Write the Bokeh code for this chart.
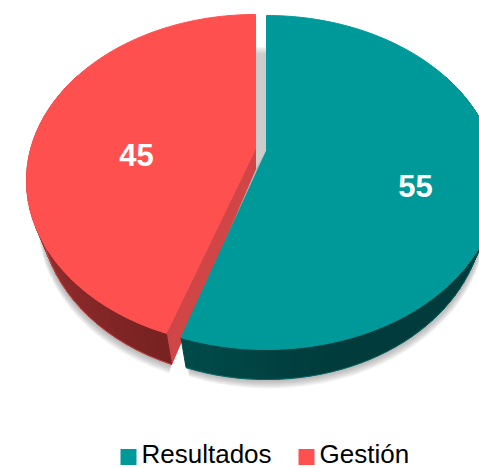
import math
from bokeh.plotting import figure
from bokeh.models import Range1d
from bokeh.core.properties import value
from bokeh.embed import file_html
from bokeh.resources import INLINE

categories = ["Resultados", "Gestión"]
values = [55, 45]
colors = ["#009999", "#ff5050"]

W, H = 479, 468
TILT = 0.19
total = sum(values)
teal_end = 360 * values[0] / total
red_start = teal_end + 1.0  # the exploded slice is drawn with a slight perspective skew


def mix(a, b, f):
    ca = [int(a[i:i + 2], 16) for i in (1, 3, 5)]
    cb = [int(b[i:i + 2], 16) for i in (1, 3, 5)]
    return "#%02x%02x%02x" % tuple(round(x + (y - x) * f) for x, y in zip(ca, cb))


def proj(deg):
    th = math.radians(deg)
    X, Y = math.sin(th), math.cos(th)
    d = 1 + TILT * Y
    return X * math.sqrt(1 - TILT ** 2) / d, (Y + TILT) / d


def top(deg, g):
    X, Y = proj(deg)
    return g["cx"] + g["rx"] * X, g["cy"] - g["ry"] * Y


def bottom(deg, g):
    X, Y = proj(deg)
    return g["cx"] + g["rx"] * g["s"] * X, g["cy"] + g["d"] - g["ry"] * Y


def steps(a, b, n):
    return [a + (b - a) * i / n for i in range(n + 1)]


teal = dict(cx=266, cy=182, rx=231, ry=167, d=30, s=0.94)
red = dict(cx=255, cy=180, rx=229, ry=166, d=31, s=0.94)
DPT_APEX = 20

p = figure(width=W, height=H, x_range=Range1d(0, W), y_range=Range1d(H, 0),
           output_backend="svg", toolbar_location=None, min_border=0,
           outline_line_color=None, background_fill_color="white", border_fill_color="white")
p.axis.visible = False
p.grid.visible = False


def poly(pts, color, alpha=1.0, line=True):
    p.patch([a for a, _ in pts], [b for _, b in pts], fill_color=color, fill_alpha=alpha,
            line_color=color if line else None, line_width=1, line_alpha=alpha)


# soft shadow under the bottom rim
for k in range(9, 0, -1):
    pts = [bottom(t, red) for t in steps(red_start, 360, 70)]
    pts = [(x - k * 0.3, y + k) for x, y in pts]
    poly(pts, "#707070", 0.07, line=False)
    pts = [bottom(t, teal) for t in steps(0, teal_end, 80)]
    pts = [(x + k * 0.3, y + k) for x, y in pts]
    poly(pts, "#707070", 0.07, line=False)

# grey back wall seen through the gap
ax_r, ay_r = top(0, red)[0], red["cy"] - TILT * red["ry"]
ax_t, ay_t = teal["cx"], teal["cy"] - TILT * teal["ry"]
poly([(ax_r, 52), (ax_t, 52), (ax_t, ay_t), (ax_r, ay_r + DPT_APEX)], "#cccccc", line=False)
for i in range(5):
    poly([(ax_r, 47 + i), (ax_t, 47 + i), (ax_t, 48 + i), (ax_r, 48 + i)],
         mix("#ececec", "#cccccc", i / 4), line=False)

# red cut face
poly([(ax_r, ay_r), (ax_r, ay_r + DPT_APEX), bottom(red_start, red), top(red_start, red)], "#d04545")

# red outer wall
ang = steps(red_start, 300, 34)
for i in range(len(ang) - 1):
    a, b = ang[i], ang[i + 1]
    c = mix("#782222", "#b83c3c", i / (len(ang) - 2))
    poly([top(a, red), top(b, red), bottom(b, red), bottom(a, red)], c)
rim = [bottom(t, red) for t in ang]
p.line([a for a, _ in rim], [b for _, b in rim], line_color="#ff5050", line_alpha=0.7, line_width=0.8)

# red top
arc = [top(t, red) for t in steps(red_start, 360, 120)]
poly([(ax_r, ay_r)] + arc, colors[1])

# teal outer wall
ang = steps(teal_end, 60, 60)
for i in range(len(ang) - 1):
    a, b = ang[i], ang[i + 1]
    c = mix("#014a4a", "#013b3b", min(1, i / 14))
    poly([top(a, teal), top(b, teal), bottom(b, teal), bottom(a, teal)], c)
rim = [bottom(t, teal) for t in ang]
p.line([a for a, _ in rim], [b for _, b in rim], line_color="#009999", line_alpha=0.5, line_width=0.8)

# teal top
arc = [top(t, teal) for t in steps(0, teal_end, 130)]
poly([(ax_t, ay_t)] + arc, colors[0])

# data labels
p.text([136], [154], text=[str(values[1])], text_color="white", text_font=value("Liberation Sans"),
       text_font_style="bold", text_font_size="31px", text_align="center", text_baseline="middle")
p.text([415], [185], text=[str(values[0])], text_color="white", text_font=value("Liberation Sans"),
       text_font_style="bold", text_font_size="31px", text_align="center", text_baseline="middle")

# legend
for name, col, mx, tx in zip(categories, colors, [128, 306], [141, 319]):
    p.scatter([mx], [456.5], marker="square", size=16, fill_color=col, line_color=None)
    p.text([tx], [453], text=[name], text_color="black", text_font=value("Liberation Sans"),
           text_font_size="26px", text_align="left", text_baseline="middle")

open("out.html", "w").write(file_html(p, INLINE))
